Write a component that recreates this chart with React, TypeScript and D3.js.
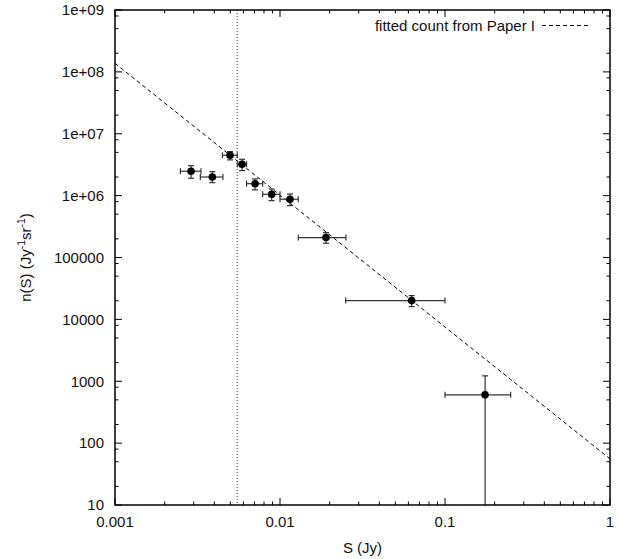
import React from "react";
import * as d3 from "d3";

// Source counts data (S in Jy, n(S) in Jy^-1 sr^-1)
const fluxS = [0.00289, 0.00389, 0.00498, 0.00589, 0.00706, 0.0089, 0.0115, 0.019, 0.0628, 0.175];
const countN = [2.48e6, 2.0e6, 4.49e6, 3.21e6, 1.56e6, 1.05e6, 8.75e5, 2.1e5, 2.01e4, 603];
const fluxLow = [0.00249, 0.00329, 0.00448, 0.00551, 0.00627, 0.00785, 0.01, 0.0129, 0.025, 0.1];
const fluxHigh = [0.00332, 0.00451, 0.00551, 0.00627, 0.00785, 0.01, 0.0129, 0.0251, 0.1, 0.25];
const countLow = [1.91e6, 1.62e6, 3.78e6, 2.54e6, 1.24e6, 8.3e5, 6.9e5, 1.7e5, 1.61e4, 1];
const countHigh = [3.05e6, 2.44e6, 5.14e6, 3.87e6, 1.86e6, 1.28e6, 1.06e6, 2.52e5, 2.42e4, 1222];

// fitted count from Paper I: n = fitNorm * S^fitSlope
const fitNorm = 55.7;
const fitSlope = -2.131;
const cutoffS = 0.0055;

const xTickValues = [0.001, 0.01, 0.1, 1];
const xTickLabels = ["0.001", "0.01", "0.1", "1"];
const yTickValues = [10, 100, 1000, 1e4, 1e5, 1e6, 1e7, 1e8, 1e9];
const yTickLabels = ["10", "100", "1000", "10000", "100000", "1e+06", "1e+07", "1e+08", "1e+09"];
const xMinorMult = [2, 3, 4, 5, 6, 7, 8, 9];
const yMinorMult = [2, 5, 8];

const legendLabel = "fitted count from Paper I";
const xLabel = "S (Jy)";

const W = 621;
const H = 559;
const left = 115;
const right = 610;
const top = 10;
const bottom = 505;

const FONT = "'Liberation Sans', Arial, Helvetica, sans-serif";

export default function App() {
  const x = d3.scaleLog().domain([0.001, 1]).range([left, right]);
  const y = d3.scaleLog().domain([10, 1e9]).range([bottom, top]);

  const fitXs = [0.001, 1];
  const fitLine = d3
    .line<number>()
    .x((s) => x(s))
    .y((s) => y(fitNorm * Math.pow(s, fitSlope)))(fitXs);

  const majT = 7;
  const minT = 3.5;

  const xMinor: number[] = [];
  for (let d = -3; d < 0; d++) for (const m of xMinorMult) xMinor.push(m * Math.pow(10, d));
  const yMinor: number[] = [];
  for (let d = 1; d < 9; d++) for (const m of yMinorMult) yMinor.push(m * Math.pow(10, d));

  const cap = 3;
  const ebColor = "#333";

  return (
    <svg
      width={W}
      height={H}
      style={{ position: "absolute", left: 0, top: 0, background: "#fff" }}
      fontFamily={FONT}
    >
      <rect x={0} y={0} width={W} height={H} fill="#fff" />
      <defs>
        <clipPath id="plotclip">
          <rect x={left} y={top} width={right - left} height={bottom - top} />
        </clipPath>
      </defs>

      {/* ticks */}
      <g stroke="#000" strokeWidth={1}>
        {xTickValues.map((v, i) => (
          <g key={"xt" + i}>
            <line x1={x(v)} x2={x(v)} y1={bottom} y2={bottom - majT} />
            <line x1={x(v)} x2={x(v)} y1={top} y2={top + majT} />
          </g>
        ))}
        {xMinor.map((v, i) => (
          <g key={"xm" + i}>
            <line x1={x(v)} x2={x(v)} y1={bottom} y2={bottom - minT} />
            <line x1={x(v)} x2={x(v)} y1={top} y2={top + minT} />
          </g>
        ))}
        {yTickValues.map((v, i) => (
          <g key={"yt" + i}>
            <line x1={left} x2={left + majT} y1={y(v)} y2={y(v)} />
            <line x1={right} x2={right - majT} y1={y(v)} y2={y(v)} />
          </g>
        ))}
        {yMinor.map((v, i) => (
          <g key={"ym" + i}>
            <line x1={left} x2={left + minT} y1={y(v)} y2={y(v)} />
            <line x1={right} x2={right - minT} y1={y(v)} y2={y(v)} />
          </g>
        ))}
      </g>

      {/* tick labels */}
      <g fontSize={15} fill="#111">
        {xTickValues.map((v, i) => (
          <text key={"xl" + i} x={x(v)} y={527} textAnchor="middle">
            {xTickLabels[i]}
          </text>
        ))}
        {yTickValues.map((v, i) => (
          <text key={"yl" + i} x={104} y={y(v)} dy="0.35em" textAnchor="end">
            {yTickLabels[i]}
          </text>
        ))}
      </g>

      {/* axis labels */}
      <text x={(left + right) / 2} y={553} fontSize={15} fill="#111" textAnchor="middle">
        {xLabel}
      </text>
      <text
        transform={`translate(31, ${(top + bottom) / 2}) rotate(-90)`}
        fontSize={15}
        fill="#111"
        textAnchor="middle"
      >
        n(S) (Jy
        <tspan fontSize={10.5} dy={-6}>-1</tspan>
        <tspan dy={6}>sr</tspan>
        <tspan fontSize={10.5} dy={-6}>-1</tspan>
        <tspan dy={6}>)</tspan>
      </text>

      <g clipPath="url(#plotclip)">
        {/* cutoff line */}
        <line
          x1={x(cutoffS)}
          x2={x(cutoffS)}
          y1={top}
          y2={bottom}
          stroke="#333"
          strokeWidth={1}
          strokeDasharray="1,2"
        />
        {/* fit line */}
        <path d={fitLine || ""} fill="none" stroke="#000" strokeWidth={1} strokeDasharray="4,3" />

        {/* error bars */}
        <g stroke={ebColor} strokeWidth={1.2} fill="none">
          {fluxS.map((s, i) => {
            const cx = x(s);
            const cy = y(countN[i]);
            const xl = x(fluxLow[i]);
            const xh = x(fluxHigh[i]);
            const yl = y(countLow[i]);
            const yh = y(countHigh[i]);
            return (
              <g key={"eb" + i}>
                <line x1={xl} x2={xh} y1={cy} y2={cy} />
                <line x1={xl} x2={xl} y1={cy - cap} y2={cy + cap} />
                <line x1={xh} x2={xh} y1={cy - cap} y2={cy + cap} />
                <line x1={cx} x2={cx} y1={yl} y2={yh} />
                <line x1={cx - cap} x2={cx + cap} y1={yl} y2={yl} />
                <line x1={cx - cap} x2={cx + cap} y1={yh} y2={yh} />
              </g>
            );
          })}
        </g>
        {/* points */}
        {fluxS.map((s, i) => (
          <circle key={"pt" + i} cx={x(s)} cy={y(countN[i])} r={3.8} fill="#000" />
        ))}
      </g>

      {/* legend */}
      <text x={535} y={31} fontSize={15} fill="#111" textAnchor="end">
        {legendLabel}
      </text>
      <line x1={542} x2={591} y1={25.5} y2={25.5} stroke="#000" strokeWidth={1} strokeDasharray="4,3" />

      {/* frame */}
      <rect
        x={left}
        y={top}
        width={right - left}
        height={bottom - top}
        fill="none"
        stroke="#000"
        strokeWidth={1.5}
      />
    </svg>
  );
}
